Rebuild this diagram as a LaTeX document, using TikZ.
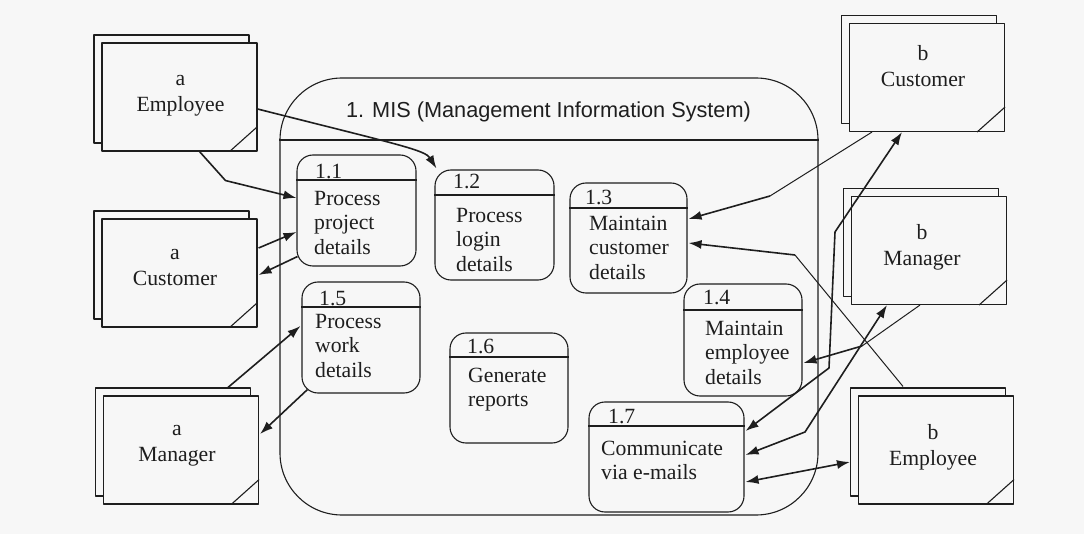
\documentclass[tikz,border=0pt]{standalone}
\usepackage{fontspec}
\setmainfont{Liberation Serif}
\newfontfamily\titlefont{Liberation Sans}
\usetikzlibrary{arrows.meta,calc,shadows}
\definecolor{ink}{HTML}{1E1E1E}
\definecolor{paper}{HTML}{F7F7F7}
\begin{document}
\begin{tikzpicture}[x=1pt,y=-1pt,line join=round,
 ent/.style={draw=ink,line width=1.1pt,fill=paper,minimum width=155pt,minimum height=108pt,inner sep=0pt,
   copy shadow={shadow xshift=-8pt,shadow yshift=8pt,draw=ink,line width=1.1pt,fill=paper}},
 proc/.style={draw=ink,line width=1.1pt,rounded corners=16pt,inner sep=0pt},
 sysbox/.style={draw=ink,line width=1.1pt,rounded corners=62pt,inner sep=0pt},
 num/.style={anchor=base west,inner sep=0pt,font=\fontsize{21.7}{24.5}\selectfont,text=ink},
 ptxt/.style={anchor=north west,inner sep=0pt,align=left,font=\fontsize{21.7}{24.5}\selectfont,text=ink},
 etxt/.style={anchor=north,inner sep=0pt,align=center,font=\fontsize{21.7}{26}\selectfont,text=ink},
 arr/.style={draw=ink,line width=1.6pt,-{Latex[length=13pt,width=9pt]}},
 darr/.style={draw=ink,line width=1.6pt,{Latex[length=13pt,width=9pt]}-{Latex[length=13pt,width=9pt]}},
 thinline/.style={draw=ink,line width=1pt},
 rule/.style={draw=ink,line width=1.1pt}]
\fill[paper] (0,0) rectangle (1084,534);
\useasboundingbox (0,0) rectangle (1084,534);

% system boundary
\node[sysbox,minimum width=538pt,minimum height=437pt] (mis) at (549,296.5) {};
\node[anchor=base,inner sep=0pt,font=\titlefont\fontsize{21.7}{26}\selectfont,text=ink] (title) at (548.5,118) {1. MIS (Management Information System)};
\draw[rule] (mis.west |- 0,140) -- (mis.east |- 0,140);

% external entities
\node[ent] (ae) at (179.5,97) {};
\node[ent] (ac) at (179.5,273) {};
\node[ent] (am) at (181,450) {};
\node[ent] (bc) at (927,77.5) {};
\node[ent] (bm) at (929,250.5) {};
\node[ent] (be) at (936,450) {};
\foreach \e in {ae,ac,am,bc,bm,be}
  \draw[rule] ($(\e.south east)+(-28,0)$) -- ($(\e.south east)+(0,-25)$);
\node[etxt] (tae) at (180.5,66.8) {\strut a\\Employee};
\node[etxt] (tac) at (175,240.8) {\strut a\\Customer};
\node[etxt] (tam) at (177,416.8) {\strut a\\Manager};
\node[etxt] (tbc) at (923,41.8) {\strut b\\Customer};
\node[etxt] (tbm) at (922,220.8) {\strut b\\Manager};
\node[etxt] (tbe) at (933,420.8) {\strut b\\Employee};

% processes
\node[proc,minimum width=119pt,minimum height=111pt] (p11) at (356.5,210.5) {};
\node[proc,minimum width=119pt,minimum height=110pt] (p12) at (494.5,225) {};
\node[proc,minimum width=117pt,minimum height=110pt] (p13) at (628.5,238) {};
\node[proc,minimum width=118pt,minimum height=112pt] (p14) at (743,340) {};
\node[proc,minimum width=118pt,minimum height=111pt] (p15) at (361,337.5) {};
\node[proc,minimum width=118pt,minimum height=110pt] (p16) at (509,388) {};
\node[proc,minimum width=155pt,minimum height=110pt] (p17) at (666.5,457) {};
\draw[rule] (p11.west |- 0,180) -- (p11.east |- 0,180);
\draw[rule] (p12.west |- 0,195) -- (p12.east |- 0,195);
\draw[rule] (p13.west |- 0,208) -- (p13.east |- 0,208);
\draw[rule] (p14.west |- 0,310) -- (p14.east |- 0,310);
\draw[rule] (p15.west |- 0,307) -- (p15.east |- 0,307);
\draw[rule] (p16.west |- 0,357) -- (p16.east |- 0,357);
\draw[rule] (p17.west |- 0,426) -- (p17.east |- 0,426);
\node[num] (n11) at (315,179) {1.1};
\node[num] (n12) at (453,189) {1.2};
\node[num] (n13) at (585,205) {1.3};
\node[num] (n14) at (703,305) {1.4};
\node[num] (n15) at (319,306) {1.5};
\node[num] (n16) at (467,354) {1.6};
\node[num] (n17) at (608,423) {1.7};
\node[ptxt] (t11) at (314,187.85) {\strut Process\\project\\details};
\node[ptxt] (t12) at (456,204.85) {\strut Process\\login\\details};
\node[ptxt] (t13) at (589,212.85) {\strut Maintain\\customer\\details};
\node[ptxt] (t14) at (705,317.85) {\strut Maintain\\employee\\details};
\node[ptxt] (t15) at (315,310.85) {\strut Process\\work\\details};
\node[ptxt] (t16) at (468,364.85) {\strut Generate\\reports};
\node[ptxt] (t17) at (601,437.85) {\strut Communicate\\via e-mails};

% connectors
\draw[arr] ($(ae.east)+(0,12)$) .. controls (400,145) and (425,150) .. ($(p12.north west)+(2,-1)$);
\draw[arr] ($(ae.south)+(20,0)$) -- ($(ae.south)+(46,29)$) -- ($(p11.west)+(0,-12.5)$);
\draw[arr] ($(ac.east)+(1,-25)$) -- ($(p11.west)+(0,21.5)$);
\draw[arr] ($(p11.south west)+(1,-10)$) -- ($(ac.east)+(1,2)$);
\draw[arr] ($(am.north)+(47,-8)$) -- ($(p15.west)+(-1,-11.5)$);
\draw[arr] ($(p15.south west)+(6,-4)$) -- ($(am.east)+(1,-16)$);

\coordinate (k7) at (770,196);
\draw[thinline] ($(bc.south)+(-55,0)$) -- (k7);
\draw[arr] (k7) -- ($(p13.east)+(1,-19)$);
\coordinate (k8) at (795,255);
\draw[thinline] ($(be.north)+(-33,-9)$) -- (k8);
\draw[arr] (k8) -- ($(p13.east)+(1,5)$);
\coordinate (k9a) at (829,368);
\coordinate (k9b) at (835,232);
\draw[darr] ($(p17.east)+(1,-26)$) -- (k9a) -- (k9b) -- ($(bc.south)+(-25,0)$);
\coordinate (k10) at (862,346);
\draw[thinline] ($(bm.south)+(-9,0)$) -- (k10);
\draw[arr] (k10) -- ($(p14.east)+(1,23)$);
\coordinate (k11) at (805,432);
\draw[darr] ($(p17.east)+(1,-2)$) -- (k11) -- ($(bm.south)+(-42,0)$);
\draw[darr] ($(p17.east)+(1,25)$) -- ($(be.west)+(-8,12)$);
\end{tikzpicture}
\end{document}
